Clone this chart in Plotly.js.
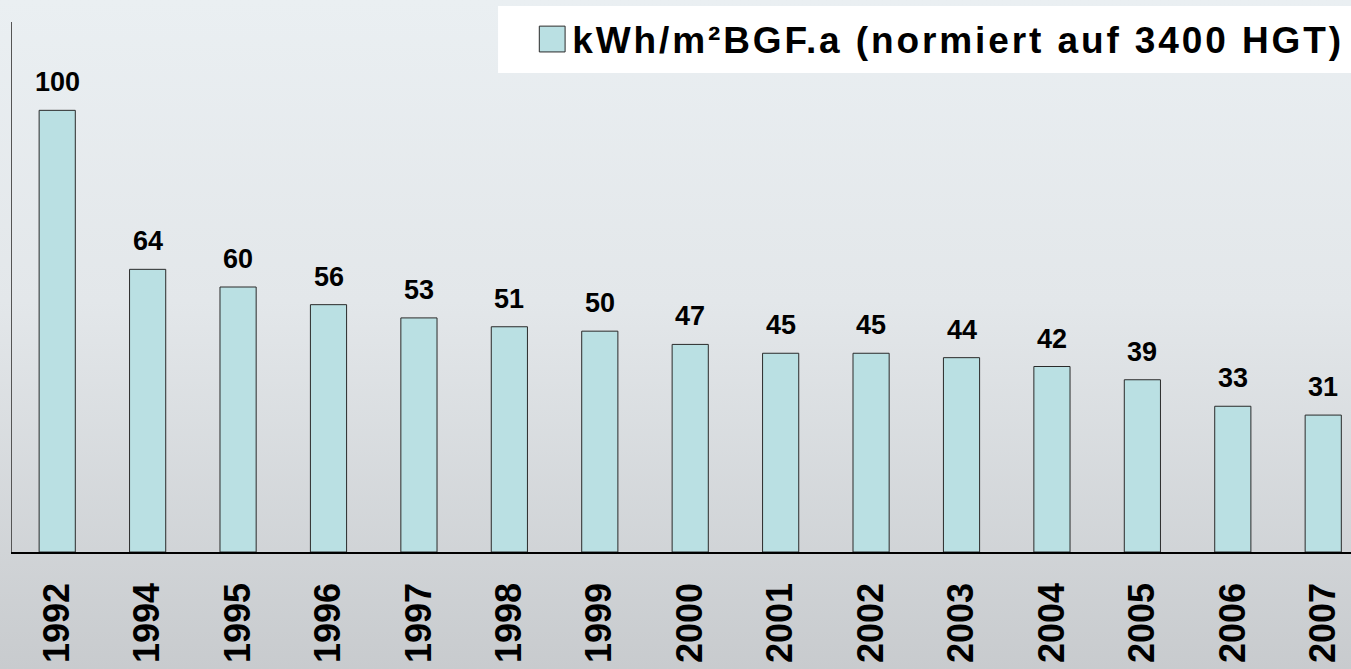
<!DOCTYPE html>
<html>
<head>
<meta charset="utf-8">
<script src="https://cdn.plot.ly/plotly-3.0.1.min.js"></script>
<style>
  html, body { margin: 0; padding: 0; }
  body { width: 1351px; height: 669px; overflow: hidden;
         background: linear-gradient(to bottom, #eaeff2 0%, #e3e7ea 45%, #c8cbce 100%); }
  #chart { width: 1351px; height: 669px; }
  .legend .legendpoints path { transform: translate(20px, 0px) scale(2.15); vector-effect: non-scaling-stroke; }
  .legendtext { letter-spacing: 2.9px; }
</style>
</head>
<body>
<div id="chart"></div>
<script>
const years = ["1992","1994","1995","1996","1997","1998","1999","2000","2001","2002","2003","2004","2005","2006","2007"];
const values = [100, 64, 60, 56, 53, 51, 50, 47, 45, 45, 44, 42, 39, 33, 31];
const seriesName = "kWh/m²BGF.a (normiert auf 3400 HGT)";

const FONT = 'Arial, "Liberation Sans", sans-serif';

const trace = {
  type: 'bar',
  x: years,
  y: values,
  name: seriesName,
  width: 0.4,
  marker: { color: '#bae0e3', line: { color: '#2a2a2a', width: 1 } },
  hoverinfo: 'x+y',
  showlegend: true
};

const annotations = years.map((yr, i) => ({
  x: i, y: values[i], xref: 'x', yref: 'y',
  text: String(values[i]), showarrow: false,
  yanchor: 'bottom', yshift: 11,
  font: { family: FONT, size: 27, color: '#000', weight: 'bold' }
}));

const layout = {
  width: 1351, height: 669,
  margin: { l: 12, r: 0, t: 22, b: 117, pad: 0 },
  paper_bgcolor: 'rgba(0,0,0,0)',
  plot_bgcolor: 'rgba(0,0,0,0)',
  font: { family: FONT, color: '#000' },
  xaxis: {
    type: 'category',
    range: [-0.5, 14.307],
    showline: true, linecolor: '#000', linewidth: 1.5,
    showgrid: false, zeroline: false, ticks: '',
    tickangle: -90,
    ticklabelstandoff: 15,
    tickfont: { family: FONT, size: 36, color: '#000', weight: 'bold' },
    fixedrange: true
  },
  yaxis: {
    range: [0, 120],
    showline: true, linecolor: '#555', linewidth: 1.5,
    showgrid: false, zeroline: false, showticklabels: false, ticks: '',
    fixedrange: true
  },
  showlegend: true,
  legend: {
    x: 0.3885, xanchor: 'left',
    y: 0.967, yanchor: 'middle',
    bgcolor: 'rgba(0,0,0,0)', borderwidth: 0,
    font: { family: FONT, size: 37, color: '#000', weight: 'bold' }
  },
  shapes: [{
    type: 'rect', xref: 'paper', yref: 'paper',
    x0: 0.363, x1: 1.0, y0: 0.9038, y1: 1.0302,
    fillcolor: '#ffffff', line: { width: 0 }, layer: 'below'
  }],
  annotations: annotations
};

Plotly.newPlot('chart', [trace], layout, { displayModeBar: false, staticPlot: true });
</script>
</body>
</html>
